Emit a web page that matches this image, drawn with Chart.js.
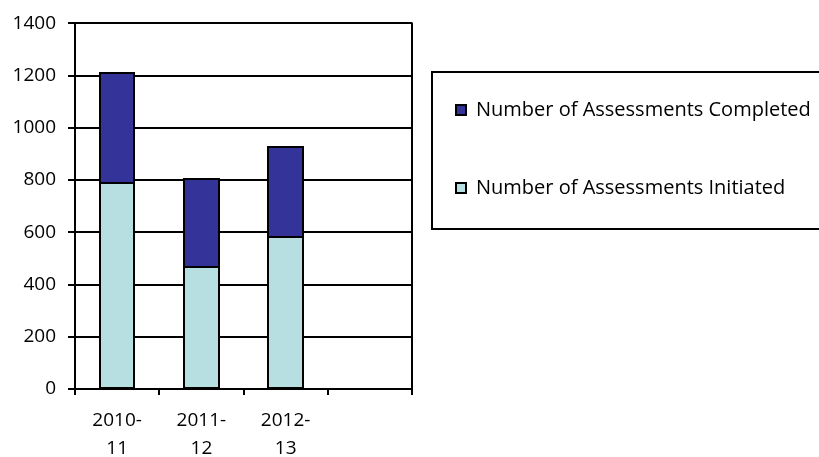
<!DOCTYPE html>
<html>
<head>
<meta charset="utf-8">
<script src="https://cdn.jsdelivr.net/npm/chart.js@4.4.0/dist/chart.umd.min.js"></script>
<style>
  html, body { margin: 0; padding: 0; background: #fff; }
  #wrap { width: 819px; height: 457px; }
</style>
</head>
<body>
<div id="wrap"><canvas id="chart" width="819" height="457"></canvas></div>
<script>
// Data
const categories = [['2010-', '11'], ['2011-', '12'], ['2012-', '13'], ''];
const initiated = [788, 467, 581, null];
const completed = [422, 336, 346, null];
const yTicks = [0, 200, 400, 600, 800, 1000, 1200, 1400];

const FONT = 'Open Sans';

// crisp black outlines on the bars, legend box and plot border
const boxLegend = {
    id: 'boxLegend',
    afterDatasetsDraw(chart) {
        const ctx = chart.ctx;
        ctx.save();
        ctx.strokeStyle = '#000';
        ctx.lineWidth = 2;
        chart.data.datasets.forEach((ds, di) => {
            chart.getDatasetMeta(di).data.forEach(bar => {
                if (bar.skip || isNaN(bar.y)) return;
                const l = Math.round(bar.x - bar.width / 2);
                const r = Math.round(bar.x + bar.width / 2);
                const t = Math.round(bar.y);
                const b = Math.round(bar.base);
                ctx.strokeRect(l, t, r - l, b - t);
            });
        });
        ctx.restore();
    },
    afterDraw(chart) {
        const ctx = chart.ctx;
        const area = chart.chartArea;
        ctx.save();
        ctx.strokeStyle = '#000';
        ctx.lineWidth = 2;
        // right border of plot
        ctx.beginPath();
        ctx.moveTo(area.right, area.top - 1);
        ctx.lineTo(area.right, area.bottom);
        ctx.stroke();

        // legend frame
        ctx.strokeRect(432, 72, 400, 157);

        const items = chart.data.datasets.slice().reverse();
        const rows = [110, 188];
        ctx.font = '20px "' + FONT + '"';
        ctx.textBaseline = 'middle';
        items.forEach((ds, i) => {
            const y = rows[i];
            ctx.fillStyle = ds.backgroundColor;
            ctx.fillRect(455, y - 6, 12, 12);
            ctx.strokeRect(456, y - 5, 10, 10);
            ctx.fillStyle = '#000';
            ctx.fillText(ds.label, 476, y);
        });
        ctx.restore();
    }
};

const ctx = document.getElementById('chart').getContext('2d');
new Chart(ctx, {
    type: 'bar',
    data: {
        labels: categories,
        datasets: [{
            label: 'Number of Assessments Initiated',
            data: initiated,
            backgroundColor: '#b7dfe1',
            borderWidth: 0
        }, {
            label: 'Number of Assessments Completed',
            data: completed,
            backgroundColor: '#333399',
            borderWidth: 0
        }]
    },
    options: {
        responsive: false,
        animation: false,
        layout: { padding: { top: 23, right: 407, left: 0, bottom: 0 } },
        datasets: { bar: { categoryPercentage: 0.41, barPercentage: 1.0, inflateAmount: 0 } },
        plugins: {
            legend: { display: false },
            tooltip: { enabled: false }
        },
        scales: {
            x: {
                stacked: true,
                offset: true,
                grid: {
                    offset: true,
                    drawOnChartArea: false,
                    drawTicks: true,
                    tickLength: 6,
                    color: '#000',
                    lineWidth: 2
                },
                border: { color: '#000', width: 2 },
                ticks: {
                    color: '#000',
                    padding: 11,
                    maxRotation: 0,
                    font: { family: FONT, size: 19, lineHeight: 1.5 }
                },
                afterFit(scale) { scale.height = 68; }
            },
            y: {
                stacked: true,
                min: 0,
                max: 1400,
                afterBuildTicks(scale) {
                    scale.ticks = yTicks.map(v => ({ value: v }));
                },
                grid: {
                    color: '#000',
                    lineWidth: 2,
                    drawTicks: true,
                    tickLength: 7
                },
                border: { color: '#000', width: 2 },
                ticks: {
                    color: '#000',
                    padding: 12,
                    font: { family: FONT, size: 19 },
                    callback: v => String(v)
                },
                afterFit(scale) { scale.width = 75; }
            }
        }
    },
    plugins: [boxLegend]
});
</script>
</body>
</html>
